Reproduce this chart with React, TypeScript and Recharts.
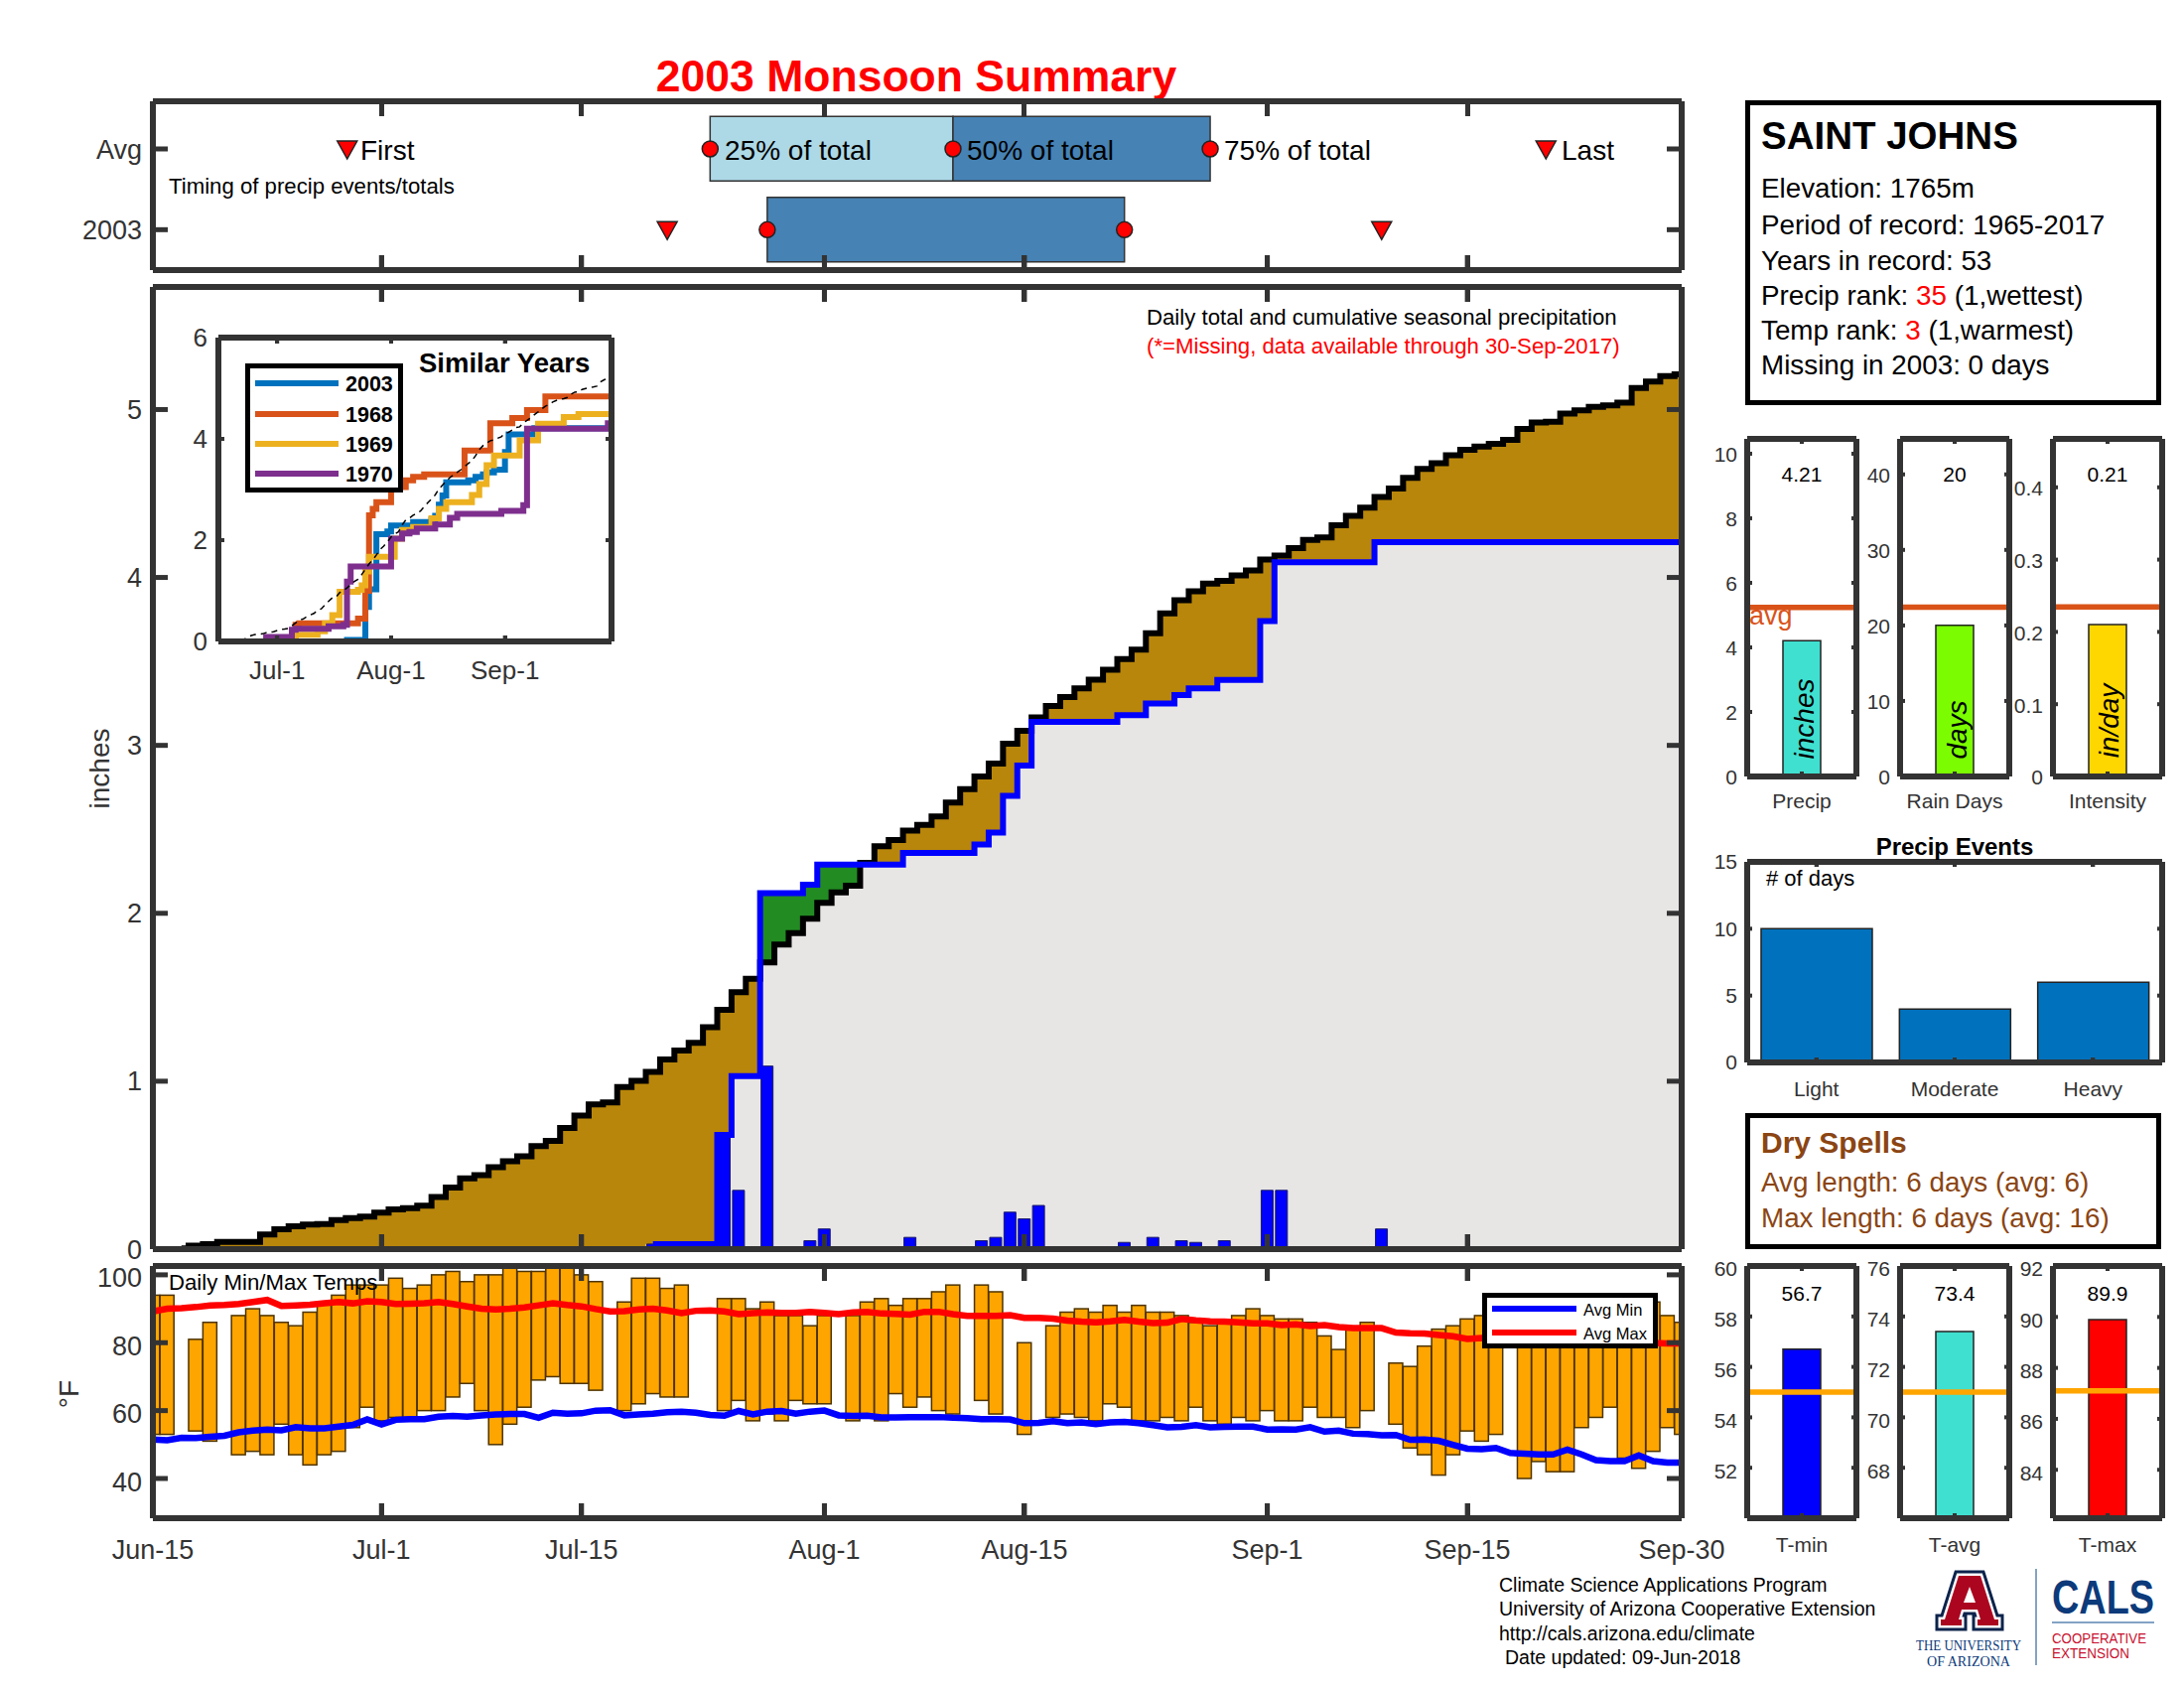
import React from "react";
import {
  Area,
  Bar,
  BarChart,
  ComposedChart,
  Line,
  LineChart,
  ReferenceDot,
  ReferenceLine,
  XAxis,
  YAxis,
} from "recharts";

const FONT = "'Liberation Sans', Arial, sans-serif";
const DARK = "#333333";
const PAD = 16;

// days since Jun-15
const days = Array.from({ length: 108 }, (_, i) => i);
const dateTicks = [0, 16, 30, 47, 61, 78, 92, 107];
const dateLabels = ["Jun-15", "Jul-1", "Jul-15", "Aug-1", "Aug-15", "Sep-1", "Sep-15", "Sep-30"];
const insetTicks = [16, 47, 78];
const insetLabels = ["Jul-1", "Aug-1", "Sep-1"];

const avgCumulative = [
  0, 0, 0.005, 0.02, 0.03, 0.043, 0.043, 0.043, 0.087, 0.118,
  0.136, 0.146, 0.15, 0.173, 0.185, 0.193, 0.217, 0.236, 0.244, 0.258,
  0.311, 0.366, 0.421, 0.441, 0.488, 0.524, 0.553, 0.614, 0.644, 0.722,
  0.795, 0.862, 0.874, 0.965, 1.002, 1.055, 1.13, 1.183, 1.228, 1.321,
  1.425, 1.53, 1.61, 1.708, 1.814, 1.882, 1.968, 2.063, 2.124, 2.164,
  2.3, 2.4, 2.436, 2.492, 2.526, 2.576, 2.66, 2.74, 2.815, 2.892,
  3.01, 3.087, 3.166, 3.235, 3.288, 3.339, 3.392, 3.451, 3.514, 3.57,
  3.668, 3.786, 3.865, 3.918, 3.963, 3.979, 4.012, 4.042, 4.107, 4.13,
  4.175, 4.223, 4.238, 4.311, 4.367, 4.416, 4.479, 4.53, 4.593, 4.646,
  4.681, 4.727, 4.76, 4.78, 4.795, 4.819, 4.884, 4.923, 4.927, 4.976,
  4.996, 5.016, 5.025, 5.041, 5.128, 5.167, 5.199, 5.21,
];

const obsCumulative = [
  0, 0, 0, 0, 0, 0, 0, 0, 0, 0,
  0, 0, 0, 0, 0, 0, 0, 0, 0, 0,
  0, 0, 0, 0, 0, 0, 0, 0, 0, 0,
  0, 0, 0, 0, 0, 0.03, 0.03, 0.03, 0.03, 0.03,
  0.68, 1.03, 1.03, 2.12, 2.12, 2.12, 2.17, 2.29, 2.29, 2.29,
  2.29, 2.29, 2.29, 2.36, 2.36, 2.36, 2.36, 2.36, 2.41, 2.48,
  2.7, 2.88, 3.14, 3.14, 3.14, 3.14, 3.14, 3.14, 3.18, 3.18,
  3.25, 3.25, 3.3, 3.34, 3.34, 3.39, 3.39, 3.39, 3.74, 4.09,
  4.09, 4.09, 4.09, 4.09, 4.09, 4.09, 4.21, 4.21, 4.21, 4.21,
  4.21, 4.21, 4.21, 4.21, 4.21, 4.21, 4.21, 4.21, 4.21, 4.21,
  4.21, 4.21, 4.21, 4.21, 4.21, 4.21, 4.21, 4.21,
];

const dailyPrecip = [
  0, 0, 0, 0, 0, 0, 0, 0, 0, 0,
  0, 0, 0, 0, 0, 0, 0, 0, 0, 0,
  0, 0, 0, 0, 0, 0, 0, 0, 0, 0,
  0, 0, 0, 0, 0, 0.03, 0, 0, 0, 0,
  0.68, 0.35, 0, 1.09, 0, 0, 0.05, 0.12, 0, 0,
  0, 0, 0, 0.07, 0, 0, 0, 0, 0.05, 0.07,
  0.22, 0.18, 0.26, 0, 0, 0, 0, 0, 0.04, 0,
  0.07, 0, 0.05, 0.04, 0, 0.05, 0, 0, 0.35, 0.35,
  0, 0, 0, 0, 0, 0, 0.12, 0, 0, 0,
  0, 0, 0, 0, 0, 0, 0, 0, 0, 0,
  0, 0, 0, 0, 0, 0, 0, 0,
];

const tempMax = [
  94, 94, null, 81, 86, null, 88, 90, 88, 86,
  85, 89, 92, 94, 97, 97, 97, 99, 96, 97,
  100, 101, 98, 100, 100, 102, 101, 101, 102, 102,
  100, 98, null, 92, 99, 99, 96, 97, null, null,
  93, 93, 90, 92, 88, 88, 85, 88, null, 88,
  92, 93, 91, 93, 93, 95, 97, null, 97, 95,
  null, 80, null, 85, 89, 90, 89, 91, 89, 91,
  89, 89, 88, 86, 85, 86, 88, 90, 88, 87,
  87, 86, 82, 78, 84, 86, null, 74, 73, 79,
  84, 85, 87, 88, 88, null, 86, 86, 85, 85,
  85, 84, 84, 85, 87, 92, 88, 86,
];

const tempMin = [
  53, 53, null, 54, 51, null, 47, 48, 47, 56,
  47, 44, 47, 48, 55, 61, 57, 58, 58, 60,
  60, 64, 68, 60, 50, 56, 61, 69, 70, 68,
  68, 66, null, 60, 62, 65, 64, 64, null, null,
  60, 63, 57, 59, 57, 63, 62, 62, null, 57,
  58, 57, 65, 61, 64, 60, 59, null, 63, 59,
  null, 53, null, 58, 59, 58, 57, 62, 61, 57,
  57, 58, 57, 61, 57, 56, 58, 57, 60, 57,
  57, 61, 58, 58, 55, 60, null, 56, 49, 47,
  41, 47, 54, 51, 53, null, 40, 45, 42, 42,
  55, 58, 61, 46, 43, 48, 55, 53,
];

const avgMaxTemp = [
  89.2, 90, 90.2, 90.5, 91, 91.1, 91.4, 92, 92.6, 90.8,
  91, 91.2, 91.6, 92, 91.6, 92.2, 92, 91.4, 91.5, 91.6,
  92, 91.4, 90.7, 90, 89.8, 90, 90.4, 91, 91.6, 91.1,
  90.7, 89.9, 89.2, 89.3, 89.8, 90, 89.5, 88.7, 89.4, 89.5,
  89.2, 88.4, 88.7, 88.9, 88.8, 88.8, 89.1, 88.8, 88.4, 88.9,
  89.1, 88.6, 88.5, 88.3, 89.1, 89.1, 88.4, 87.9, 87.9, 87.9,
  88.1, 87.3, 87.3, 87.1, 86.5, 86.2, 86, 86.3, 86.7, 86.2,
  85.8, 85.9, 87, 86.6, 86.3, 86.2, 86, 85.7, 85.7, 85.2,
  85.4, 84.9, 85.2, 84.6, 84.3, 84.3, 84.3, 83, 82.8, 82.7,
  82.3, 81.9, 81.1, 81.4, 81.2, 81, 80.3, 80.4, 80.6, 80.7,
  80.7, 80.5, 80.3, 80, 79.9, 79.9, 79.8, 79.8,
];

const avgMinTemp = [
  51.5, 51.3, 52, 51.9, 52.3, 52.6, 53.6, 54.1, 54.4, 54.2,
  55.1, 54.8, 54.8, 55.3, 55.8, 57.4, 55.9, 57.3, 57.5, 57.5,
  58.2, 58.4, 58.2, 58.6, 58.9, 59, 59, 57.9, 59.4, 59.1,
  59.2, 60, 60.1, 58.6, 58.9, 59.1, 59.5, 59.7, 59.4, 58.7,
  58.5, 59.9, 58.9, 59.7, 59.9, 59.1, 59.7, 60, 58.6, 58.4,
  58.5, 58, 58, 58.1, 58.1, 58.1, 57.9, 57.8, 57.5, 57.5,
  57.4, 56.3, 56.4, 56.9, 56.3, 56.5, 56, 56.5, 56.7, 56.3,
  55.7, 55.1, 55.2, 55.7, 55.1, 55.2, 55.3, 55.3, 54.4, 54.5,
  54.4, 55.1, 53.8, 54.1, 53.2, 53.1, 52.7, 52.8, 51.4, 51.5,
  51.1, 49.9, 48.8, 48.6, 49, 47.5, 47.3, 47.1, 47.1, 48.5,
  47.1, 45.4, 45.1, 45.1, 46.8, 45.1, 44.7, 44.7,
];

// similar years, [day, inches] at each stair
const year1968 = [
  [0, 0], [20, 0], [21, 0.33], [22, 0.36], [38, 0.45], [40, 1.0], [41, 2.49], [42, 2.62], [43, 2.75], [47, 3.0],
  [48, 3.05], [51, 3.18], [53, 3.25], [56, 3.3], [67, 3.77], [74, 4.31], [80, 4.41], [84, 4.57], [89, 4.84], [107, 4.84],
];
const year1969 = [
  [0, 0], [14, 0.07], [21, 0.13], [27, 0.2], [29, 0.36], [31, 0.52], [33, 0.98], [38, 1.02], [39, 1.11], [40, 1.38],
  [41, 1.67], [48, 2.03], [50, 2.2], [53, 2.26], [58, 2.43], [60, 2.62], [62, 2.75], [69, 2.89], [71, 3.11], [73, 3.48],
  [75, 3.67], [82, 3.97], [87, 4.3], [94, 4.43], [98, 4.49], [107, 4.49],
];
const year1970 = [
  [0, 0], [13, 0.09], [20, 0.23], [21, 0.25], [30, 0.3], [34, 0.33], [35, 1.18], [36, 1.48], [47, 2.03], [50, 2.13],
  [52, 2.16], [54, 2.23], [59, 2.31], [63, 2.44], [65, 2.52], [77, 2.58], [83, 2.69], [84, 4.2], [105, 4.2], [106, 4.31], [107, 4.31],
];
const similarColors = { 2003: "#0072BD", 1968: "#D95319", 1969: "#EDB120", 1970: "#7E2F8E" };

const timingRows = [2, 1];
const timingRowLabels = { 1: "2003", 2: "Avg" };
const timingFirst = [13.6, 36];
const timingLast = [97.5, 86];
const timing25 = [39, 43];
const timing50 = [56, null];
const timing75 = [74, 68];

const eventNames = ["Light", "Moderate", "Heavy"];
const eventDays = [10, 4, 6];

const mainData = days.map((d, i) => ({
  day: d,
  base: Math.min(avgCumulative[i], obsCumulative[i]),
  deficit: Math.max(avgCumulative[i] - obsCumulative[i], 0),
  surplus: Math.max(obsCumulative[i] - avgCumulative[i], 0),
  avgLine: avgCumulative[i] > 0 ? avgCumulative[i] : null,
  obsLine: obsCumulative[i] > 0 ? obsCumulative[i] : null,
  daily: dailyPrecip[i],
}));

const tempData = days.map((d, i) => ({
  day: d,
  range: tempMax[i] == null ? null : [tempMin[i], tempMax[i]],
  avgMin: avgMinTemp[i],
  avgMax: avgMaxTemp[i],
}));

const insetData = days.map((d, i) => ({ day: d, obs: obsCumulative[i], avg: avgCumulative[i] }));
const pairs = (list: number[][]) => list.map(([day, value]) => ({ day, value }));

const timingData = timingRows.map((row, i) => ({
  row,
  lead: timing25[i],
  early: timing50[i] == null ? 0 : timing50[i] - timing25[i],
  late: timing50[i] == null ? timing75[i] - timing25[i] : timing75[i] - timing50[i],
}));

const eventData = eventNames.map((name, i) => ({ name, value: eventDays[i] }));

function Txt({ x, y, size = 22, color = "#000", anchor = "left", bold = false, italic = false, rotate = 0, children }: any) {
  const tx = anchor === "left" ? "0" : anchor === "center" ? "-50%" : "-100%";
  return (
    <div
      style={{
        position: "absolute",
        left: x,
        top: y,
        transform: `translate(${tx}, -50%) rotate(${rotate}deg)`,
        fontFamily: FONT,
        fontSize: size,
        fontWeight: bold ? 700 : 400,
        fontStyle: italic ? "italic" : "normal",
        lineHeight: 1,
        color,
        whiteSpace: "nowrap",
      }}
    >
      {children}
    </div>
  );
}

function Panel({ left, top, yW, z = 1, children }: any) {
  return <div style={{ position: "absolute", left: left - yW, top: top - PAD, zIndex: z }}>{children}</div>;
}

// chart size and margins for a plot box of w by h, top and right axes take 1px each
function box(w: number, h: number, yW: number, xH: number, right = 5) {
  const bottom = xH === 1 ? PAD - 1 : 0;
  return {
    width: yW + w + 1 + right,
    height: PAD + h + xH + bottom,
    margin: { top: PAD - 1, right, left: 0, bottom },
  };
}

// keeps the tick marks but draws no tick text
const noText = () => <g />;

function BoxAxes({
  xDomain, xTicks, xFmt, xKey = "day", xType = "number",
  yDomain, yTicks, yFmt, yKey, yReversed = false, yNudge = 0,
  len, weight, font, frame = 6, yMargin, xMargin = 0, yW, xH, showX = true,
}: any) {
  const line = { stroke: DARK, strokeWidth: frame };
  const mark = { stroke: DARK, strokeWidth: weight };
  const tick = { fill: DARK, fontSize: font, fontFamily: FONT };
  const xProps: any = { dataKey: xKey, type: xType, axisLine: line, tickLine: mark, tickSize: -len };
  if (xDomain) {
    xProps.domain = xDomain;
    xProps.ticks = xTicks;
    xProps.interval = 0;
  }
  const yProps: any = { type: "number", domain: yDomain, ticks: yTicks, interval: 0, axisLine: line, tickLine: mark, tickSize: -len, allowDataOverflow: true, reversed: yReversed };
  if (yKey) yProps.dataKey = yKey;
  return (
    <>
      <XAxis {...xProps} height={xH} tick={showX ? tick : noText} tickMargin={xMargin} tickFormatter={xFmt} />
      <XAxis {...xProps} xAxisId="top" orientation="top" height={1} tick={noText} />
      <YAxis {...yProps} width={yW} tick={{ ...tick, dy: yNudge }} tickMargin={yMargin} tickFormatter={yFmt} />
      <YAxis {...yProps} yAxisId="right" orientation="right" width={1} tick={noText} />
    </>
  );
}

// inward x tick marks along the top and bottom edges of a plot box
function EdgeMarks({ left, top, w, h, domain, marks, len, weight, z = 1 }: any) {
  const tickAt = (m: number, y: number) => (
    <div
      key={`${m}-${y}`}
      style={{
        position: "absolute",
        left: left + ((m - domain[0]) / (domain[1] - domain[0])) * w - weight / 2,
        top: y,
        width: weight,
        height: len,
        background: DARK,
        zIndex: z,
      }}
    />
  );
  return <>{marks.flatMap((m: number) => [tickAt(m, top), tickAt(m, top + h - len)])}</>;
}

const dateFmt = (v: number) => dateLabels[dateTicks.indexOf(v)];
const insetFmt = (v: number) => insetLabels[insetTicks.indexOf(v)];

function triangle({ cx, cy }: any) {
  return <path d={`M${cx - 10} ${cy - 8}L${cx + 10} ${cy - 8}L${cx} ${cy + 10}Z`} fill="#FF0000" stroke="#222" strokeWidth={1.5} />;
}

// first and last day bars are cut by the plot edge
function tempBar(plotLeft: number, plotRight: number) {
  return ({ x, y, width, height, fill, stroke, strokeWidth }: any) => {
    if (!height) return <g />;
    const left = Math.max(x, plotLeft);
    const right = Math.min(x + width, plotRight);
    return <rect x={left} y={y} width={right - left} height={height} fill={fill} stroke={stroke} strokeWidth={strokeWidth} />;
  };
}

function TimingPanel() {
  const yW = 100;
  return (
    <Panel left={154} top={102} yW={yW}>
      <ComposedChart {...box(1540, 170, yW, 1)} layout="vertical" data={timingData}>
        <Bar dataKey="lead" stackId="t" fill="none" stroke="none" barSize={65} isAnimationActive={false} />
        <Bar dataKey="early" stackId="t" fill="#ADD8E6" stroke="#333" strokeWidth={1.5} barSize={65} isAnimationActive={false} />
        <Bar dataKey="late" stackId="t" fill="#4682B4" stroke="#333" strokeWidth={1.5} barSize={65} isAnimationActive={false} />
        <BoxAxes
          xDomain={[0, 107]} xTicks={dateTicks} xKey={undefined} yDomain={[0.5, 2.59]} yTicks={[1, 2]} yKey="row" yReversed
          yFmt={(v: number) => (timingRowLabels as any)[v]} len={15} weight={5} font={27} yMargin={26} yW={yW} xH={1} showX={false}
        />
        {timingRows.map((row, i) => <ReferenceDot key={`f${row}`} x={timingFirst[i]} y={row} r={10} shape={triangle} ifOverflow="visible" />)}
        {timingRows.map((row, i) => <ReferenceDot key={`l${row}`} x={timingLast[i]} y={row} r={10} shape={triangle} ifOverflow="visible" />)}
        {timingRows.map((row, i) => <ReferenceDot key={`a${row}`} x={timing25[i]} y={row} r={8} fill="#FF0000" stroke="#222" strokeWidth={1.5} ifOverflow="visible" />)}
        {timingRows.map((row, i) => timing50[i] == null ? null : <ReferenceDot key={`b${row}`} x={timing50[i] as number} y={row} r={8} fill="#FF0000" stroke="#222" strokeWidth={1.5} ifOverflow="visible" />)}
        {timingRows.map((row, i) => <ReferenceDot key={`c${row}`} x={timing75[i]} y={row} r={8} fill="#FF0000" stroke="#222" strokeWidth={1.5} ifOverflow="visible" />)}
      </ComposedChart>
    </Panel>
  );
}

function MainPanel() {
  const yW = 100;
  return (
    <Panel left={154} top={289} yW={yW}>
      <ComposedChart {...box(1540, 969, yW, 1)} data={mainData}>
        <Area type="step" dataKey="base" stackId="p" fill="#E8E6E5" fillOpacity={1} stroke="none" isAnimationActive={false} />
        <Area type="step" dataKey="deficit" stackId="p" fill="#B8860B" fillOpacity={1} stroke="none" isAnimationActive={false} />
        <Area type="step" dataKey="surplus" stackId="p" fill="#228B22" fillOpacity={1} stroke="none" isAnimationActive={false} />
        <Line type="step" dataKey="avgLine" stroke="#000" strokeWidth={6} dot={false} isAnimationActive={false} />
        <Line type="step" dataKey="obsLine" stroke="#0000FF" strokeWidth={6} dot={false} isAnimationActive={false} />
        <Bar dataKey="daily" fill="#0000FF" stroke="#1a1a66" strokeWidth={1} barSize={12} isAnimationActive={false} />
        <BoxAxes
          xDomain={[0, 107]} xTicks={dateTicks} yDomain={[0, 5.73]} yTicks={[0, 1, 2, 3, 4, 5]}
          len={15} weight={5} font={27} yMargin={26} yW={yW} xH={1} showX={false}
        />
      </ComposedChart>
    </Panel>
  );
}

function InsetPanel() {
  const yW = 50;
  return (
    <Panel left={220} top={340} yW={yW} z={2}>
      <LineChart {...box(396, 306, yW, 46)} data={insetData}>
        <Line type="stepAfter" dataKey="obs" stroke={similarColors[2003]} strokeWidth={6} dot={false} isAnimationActive={false} />
        <Line type="stepAfter" data={pairs(year1968)} dataKey="value" stroke={similarColors[1968]} strokeWidth={6} dot={false} isAnimationActive={false} />
        <Line type="stepAfter" data={pairs(year1969)} dataKey="value" stroke={similarColors[1969]} strokeWidth={6} dot={false} isAnimationActive={false} />
        <Line type="stepAfter" data={pairs(year1970)} dataKey="value" stroke={similarColors[1970]} strokeWidth={6} dot={false} isAnimationActive={false} />
        <Line type="linear" dataKey="avg" stroke="#000" strokeWidth={1.5} strokeDasharray="6 5" dot={false} isAnimationActive={false} />
        <BoxAxes
          xDomain={[0, 107]} xTicks={insetTicks} xFmt={insetFmt} yDomain={[0, 6]} yTicks={[0, 2, 4, 6]}
          len={6} weight={4} font={26} yMargin={17} xMargin={26} yW={yW} xH={46}
        />
      </LineChart>
    </Panel>
  );
}

function TempPanel() {
  const yW = 100;
  return (
    <Panel left={154} top={1275} yW={yW}>
      <ComposedChart {...box(1540, 254, yW, 60, 60)} data={tempData}>
        <Bar dataKey="range" fill="#FFA500" stroke="#4d3300" strokeWidth={1.5} barSize={14} shape={tempBar(yW, yW + 1540)} isAnimationActive={false} />
        <Line type="linear" dataKey="avgMin" stroke="#0000FF" strokeWidth={6.5} dot={false} isAnimationActive={false} />
        <Line type="linear" dataKey="avgMax" stroke="#FF0000" strokeWidth={6.5} dot={false} isAnimationActive={false} />
        <BoxAxes
          xDomain={[0, 107]} xTicks={dateTicks} xFmt={dateFmt} yDomain={[28.3, 102.6]} yTicks={[40, 60, 80, 100]} yNudge={3}
          len={15} weight={5} font={27} yMargin={26} xMargin={37} yW={yW} xH={60}
        />
      </ComposedChart>
    </Panel>
  );
}

function MiniBar({ left, top, width, height, domain, ticks, name, value, avg, color, avgColor, margin, nudge = 0 }: any) {
  const yW = 60, xH = 46;
  return (
    <>
      <Panel left={left} top={top} yW={yW}>
        <BarChart {...box(width, height, yW, xH)} data={[{ name, value }]}>
          <Bar dataKey="value" fill={color} stroke="#222" strokeWidth={1.5} barSize={38} isAnimationActive={false} />
          <ReferenceLine y={avg} stroke={avgColor} strokeWidth={5.5} ifOverflow="hidden" />
          <BoxAxes
            xKey="name" xType="category" yDomain={domain} yTicks={ticks} yNudge={nudge}
            len={5} weight={4} font={21} yMargin={15} xMargin={margin} yW={yW} xH={xH}
          />
        </BarChart>
      </Panel>
      <EdgeMarks left={left} top={top} w={width} h={height} domain={[0, 2]} marks={[1]} len={5} weight={4} />
    </>
  );
}

function EventsPanel() {
  const yW = 60, xH = 50;
  return (
    <>
      <Panel left={1760} top={868} yW={yW}>
        <BarChart {...box(418, 202, yW, xH)} data={eventData}>
          <Bar dataKey="value" fill="#0072BD" stroke="#222" strokeWidth={1.5} barSize={112} isAnimationActive={false} />
          <BoxAxes
            xKey="name" xType="category" yDomain={[0, 15]} yTicks={[0, 5, 10, 15]}
            len={5} weight={4} font={21} yMargin={15} xMargin={24} yW={yW} xH={xH}
          />
        </BarChart>
      </Panel>
      <EdgeMarks left={1760} top={868} w={418} h={202} domain={[0, 6]} marks={[1, 3, 5]} len={5} weight={4} />
    </>
  );
}

function TextBox({ left, top, width, height, z = 1 }: any) {
  return (
    <div
      style={{
        position: "absolute", left, top, width, height, boxSizing: "border-box",
        border: "5px solid #000", background: "#fff", zIndex: z,
      }}
    />
  );
}

function LegendKey({ x1, x2, y, color, weight }: any) {
  return <div style={{ position: "absolute", left: x1, top: y - weight / 2, width: x2 - x1, height: weight, background: color }} />;
}

const LOGO_A = "M1973 1587H1995L2009 1631H2013V1637H1992V1631H1995L1992 1621H1976L1973 1631H1976V1637H1955V1631H1959Z";

function Logo() {
  return (
    <svg width={274} height={110} style={{ position: "absolute", left: 1925, top: 1575 }}>
      <g transform="translate(-1925 -1575)">
        <path d={LOGO_A} fill="#0C234B" stroke="#0C234B" strokeWidth={11} />
        <path d={LOGO_A} fill="#fff" stroke="#fff" strokeWidth={5} />
        <path d={LOGO_A} fill="#AB0520" />
        <path d="M1984 1598L1978 1614H1990Z" fill="#fff" />
      </g>
      <text x={58} y={87} textAnchor="middle" fontFamily="'Liberation Serif', serif" fontSize={15.5} fill="#0C3A7A" textLength={106} lengthAdjust="spacingAndGlyphs">THE UNIVERSITY</text>
      <text x={58} y={103} textAnchor="middle" fontFamily="'Liberation Serif', serif" fontSize={15.5} fill="#0C3A7A" textLength={84} lengthAdjust="spacingAndGlyphs">OF ARIZONA</text>
      <line x1={126} x2={126} y1={5} y2={102} stroke="#5b84b1" strokeWidth={1.5} />
      <text x={142} y={50} fontFamily="'Liberation Sans', sans-serif" fontWeight={700} fontSize={48} fill="#0C3A7A" textLength={103} lengthAdjust="spacingAndGlyphs">CALS</text>
      <line x1={142} x2={245} y1={59} y2={59} stroke="#5b84b1" strokeWidth={1.5} />
      <text x={142} y={80} fontFamily="'Liberation Sans', sans-serif" fontSize={15} fill="#C8102E" textLength={95} lengthAdjust="spacingAndGlyphs">COOPERATIVE</text>
      <text x={142} y={95} fontFamily="'Liberation Sans', sans-serif" fontSize={15} fill="#C8102E" textLength={78} lengthAdjust="spacingAndGlyphs">EXTENSION</text>
    </svg>
  );
}

export default function App() {
  return (
    <div style={{ position: "absolute", left: 0, top: 0, width: 2200, height: 1700, background: "#fff", overflow: "hidden" }}>
      <Txt x={923} y={77} size={44.5} bold color="#FF0000" anchor="center">2003 Monsoon Summary</Txt>

      <TimingPanel />
      <EdgeMarks left={154} top={102} w={1540} h={170} domain={[0, 107]} marks={dateTicks} len={15} weight={5} />
      <MainPanel />
      <EdgeMarks left={154} top={289} w={1540} h={969} domain={[0, 107]} marks={dateTicks} len={15} weight={5} />
      <InsetPanel />
      <EdgeMarks left={220} top={340} w={396} h={306} domain={[0, 107]} marks={insetTicks} len={6} weight={4} z={2} />
      <TempPanel />
      <EdgeMarks left={154} top={1275} w={1540} h={254} domain={[0, 107]} marks={dateTicks} len={15} weight={5} />

      <div style={{ position: "absolute", inset: 0, zIndex: 3, pointerEvents: "none" }}>
        <Txt x={363} y={152} size={28}>First</Txt>
        <Txt x={730} y={152} size={28}>25% of total</Txt>
        <Txt x={974} y={152} size={28}>50% of total</Txt>
        <Txt x={1233} y={152} size={28}>75% of total</Txt>
        <Txt x={1573} y={152} size={28}>Last</Txt>
        <Txt x={170} y={188} size={22.2}>Timing of precip events/totals</Txt>

        <Txt x={1155} y={320} size={22.2}>Daily total and cumulative seasonal precipitation</Txt>
        <Txt x={1155} y={349} size={22.2} color="#FF0000">(*=Missing, data available through 30-Sep-2017)</Txt>

        <Txt x={101} y={774} size={28} color={DARK} anchor="center" rotate={-90}>inches</Txt>
        <Txt x={70} y={1404} size={28} color={DARK} anchor="center" rotate={-90}>°F</Txt>
        <Txt x={170} y={1292} size={22.2}>Daily Min/Max Temps</Txt>

        <Txt x={422} y={366} size={27.5} bold>Similar Years</Txt>
        <TextBox left={247} top={366} width={159} height={130} />
        <div style={{ position: "absolute", inset: 0, zIndex: 2 }}>
          <LegendKey x1={257} x2={341} y={386} color={similarColors[2003]} weight={6} />
          <LegendKey x1={257} x2={341} y={417} color={similarColors[1968]} weight={6} />
          <LegendKey x1={257} x2={341} y={447} color={similarColors[1969]} weight={6} />
          <LegendKey x1={257} x2={341} y={477} color={similarColors[1970]} weight={6} />
          <Txt x={348} y={388} size={21.5} bold>2003</Txt>
          <Txt x={348} y={419} size={21.5} bold>1968</Txt>
          <Txt x={348} y={449} size={21.5} bold>1969</Txt>
          <Txt x={348} y={479} size={21.5} bold>1970</Txt>
        </div>
        <TextBox left={1493} top={1302} width={177} height={56} />
        <div style={{ position: "absolute", inset: 0, zIndex: 2 }}>
          <LegendKey x1={1503} x2={1588} y={1318} color="#0000FF" weight={6} />
          <LegendKey x1={1503} x2={1588} y={1342} color="#FF0000" weight={6} />
          <Txt x={1595} y={1319} size={16.5}>Avg Min</Txt>
          <Txt x={1595} y={1343} size={16.5}>Avg Max</Txt>
        </div>
      </div>

      <TextBox left={1758} top={101} width={419} height={307} />
      <div style={{ position: "absolute", inset: 0, zIndex: 2, pointerEvents: "none" }}>
        <Txt x={1774} y={137} size={38.5} bold>SAINT JOHNS</Txt>
        <Txt x={1774} y={190} size={27.8}>Elevation: 1765m</Txt>
        <Txt x={1774} y={227} size={27.8}>Period of record: 1965-2017</Txt>
        <Txt x={1774} y={263} size={27.8}>Years in record: 53</Txt>
        <Txt x={1774} y={298} size={27.8}>Precip rank: <span style={{ color: "#FF0000" }}>35</span> (1,wettest)</Txt>
        <Txt x={1774} y={333} size={27.8}>Temp rank: <span style={{ color: "#FF0000" }}>3</span> (1,warmest)</Txt>
        <Txt x={1774} y={368} size={27.8}>Missing in 2003: 0 days</Txt>
      </div>

      <MiniBar left={1760} top={442} width={110} height={340} domain={[0, 10.46]} ticks={[0, 2, 4, 6, 8, 10]} name="Precip" value={4.21} avg={5.24} color="#40E0D0" avgColor="#D95319" margin={22} nudge={1} />
      <MiniBar left={1914} top={442} width={110} height={340} domain={[0, 44.7]} ticks={[0, 10, 20, 30, 40]} name="Rain Days" value={20} avg={22.4} color="#7CFC00" avgColor="#D95319" margin={22} nudge={1} />
      <MiniBar left={2068} top={442} width={110} height={340} domain={[0, 0.467]} ticks={[0, 0.1, 0.2, 0.3, 0.4]} name="Intensity" value={0.21} avg={0.2345} color="#FFD700" avgColor="#D95319" margin={22} nudge={1} />

      <EventsPanel />

      <MiniBar left={1760} top={1275} width={110} height={254} domain={[50, 60]} ticks={[52, 54, 56, 58, 60]} name="T-min" value={56.7} avg={55} color="#0000FF" avgColor="#FFA500" margin={24} nudge={3} />
      <MiniBar left={1914} top={1275} width={110} height={254} domain={[66, 76]} ticks={[68, 70, 72, 74, 76]} name="T-avg" value={73.4} avg={71} color="#40E0D0" avgColor="#FFA500" margin={24} nudge={3} />
      <MiniBar left={2068} top={1275} width={110} height={254} domain={[82.1, 92]} ticks={[84, 86, 88, 90, 92]} name="T-max" value={89.9} avg={87.1} color="#FF0000" avgColor="#FFA500" margin={24} nudge={3} />

      <TextBox left={1758} top={1121} width={419} height={137} />

      <div style={{ position: "absolute", inset: 0, zIndex: 4, pointerEvents: "none" }}>
        <Txt x={1815} y={477} size={21} anchor="center">4.21</Txt>
        <Txt x={1969} y={477} size={21} anchor="center">20</Txt>
        <Txt x={2123} y={477} size={21} anchor="center">0.21</Txt>
        <Txt x={1762} y={620} size={27} color="#D95319">avg</Txt>
        <Txt x={1818} y={724} size={28} italic anchor="center" rotate={-90}>inches</Txt>
        <Txt x={1972} y={735} size={28} italic anchor="center" rotate={-90}>days</Txt>
        <Txt x={2125} y={726} size={28} italic anchor="center" rotate={-90}>in/day</Txt>

        <Txt x={1969} y={853} size={24} bold anchor="center">Precip Events</Txt>
        <Txt x={1779} y={885} size={22}>
          # of days
        </Txt>

        <Txt x={1774} y={1151} size={30} bold color="#8B4513">Dry Spells</Txt>
        <Txt x={1774} y={1191} size={27.8} color="#8B4513">Avg length: 6 days (avg: 6)</Txt>
        <Txt x={1774} y={1227} size={27.8} color="#8B4513">Max length: 6 days (avg: 16)</Txt>

        <Txt x={1815} y={1302} size={21} anchor="center">56.7</Txt>
        <Txt x={1969} y={1302} size={21} anchor="center">73.4</Txt>
        <Txt x={2123} y={1302} size={21} anchor="center">89.9</Txt>

        <Txt x={1510} y={1597} size={19.5}>Climate Science Applications Program</Txt>
        <Txt x={1510} y={1621} size={19.5}>University of Arizona Cooperative Extension</Txt>
        <Txt x={1510} y={1646} size={19.5}>http://cals.arizona.edu/climate</Txt>
        <Txt x={1516} y={1670} size={19.5}>Date updated: 09-Jun-2018</Txt>
        <Logo />
      </div>
    </div>
  );
}
